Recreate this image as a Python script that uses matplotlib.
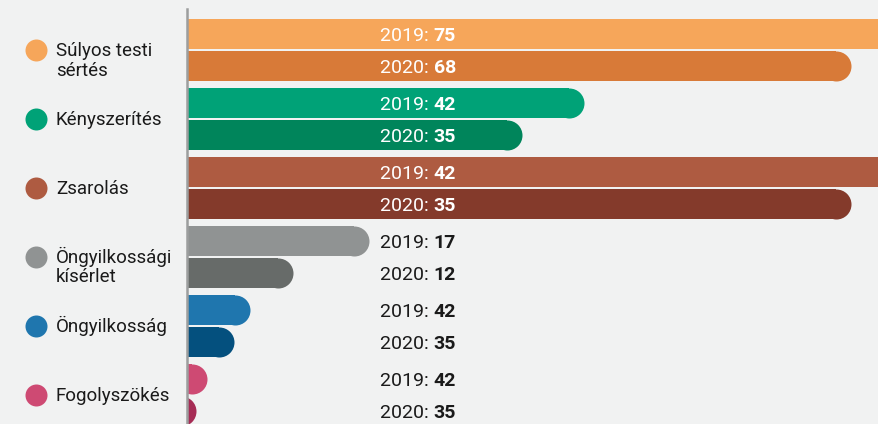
import numpy as np
import matplotlib
matplotlib.use("Agg")
from matplotlib import pyplot as plt

# categories (legend, top to bottom)
categories = ["Súlyos testi\nsértés", "Kényszerítés", "Zsarolás",
              "Öngyilkossági\nkísérlet", "Öngyilkosság", "Fogolyszökés"]

# printed values
vals_2019 = [75, 42, 42, 17, 42, 42]
vals_2020 = [68, 35, 35, 12, 35, 35]

# drawn bar lengths (panel width = 692)
len_2019 = [720, 397, 720, 182, 63, 20]
len_2020 = [664, 335, 664, 106, 47, 9]

col_2019 = ["#F6A65A", "#00A277", "#AE5B41", "#909393", "#1F76AE", "#CE4A73"]
col_2020 = ["#D87A38", "#00855B", "#843A2B", "#676B69", "#04507E", "#A62C55"]
label_col = ["white", "white", "white", "#1a1a1a", "#1a1a1a", "#1a1a1a"]

plt.rcParams["font.family"] = ["Roboto", "DejaVu Sans"]

W, H, DPI = 879, 424, 100
fig = plt.figure(figsize=(W / DPI, H / DPI), dpi=DPI)
fig.patch.set_facecolor("#F1F2F2")

# background axes in pixel units for the legend
bg = fig.add_axes([0, 0, 1, 1])
bg.set_xlim(0, W)
bg.set_ylim(H, 0)
bg.axis("off")

# bar panel
x0 = 187
top = 9
ax = fig.add_axes([x0 / W, 0, (W - x0) / W + 0.01, (H - top) / H])
ax.set_xlim(0, W - x0 + 0.01 * W)
ax.set_ylim(H, top)
ax.patch.set_alpha(0)
for s in ["top", "right", "bottom"]:
    ax.spines[s].set_visible(False)
ax.spines["left"].set_color("#9C9E9E")
ax.spines["left"].set_linewidth(1.8)
ax.set_xticks([])
ax.set_yticks([])

bar_h = 30
r = bar_h / 2
cap_s = (bar_h * 72 / DPI) ** 2
centers = 49.5 + 69 * np.arange(len(categories))

for i, cat in enumerate(categories):
    for dy, L, c, v, yr in [(-16, len_2019[i], col_2019[i], vals_2019[i], "2019"),
                            (16, len_2020[i], col_2020[i], vals_2020[i], "2020")]:
        y = centers[i] + dy
        ax.barh(y, max(L - r, 0), height=bar_h, color=c, linewidth=0)
        ax.scatter([L - r], [y], s=cap_s, color=c, linewidths=0, zorder=2)
        t = ax.text(193, y + 7.5, yr + ": ", color=label_col[i], fontsize=14,
                    va="baseline", ha="left", zorder=3)
        ax.annotate(str(v), xy=(1, 0), xycoords=t, va="bottom", ha="left",
                    color=label_col[i], fontsize=14, fontweight="bold", zorder=3)

    # legend
    bg.scatter([36], [centers[i]], s=(22 * 72 / DPI) ** 2, color=col_2019[i],
               linewidths=0)
    lines = cat.split("\n")
    for k, ln in enumerate(lines):
        bg.text(56, centers[i] + 6.5 + 19.5 * k, ln, fontsize=13.5, color="#1a1a1a",
                va="baseline", ha="left")

fig.savefig("out.png", dpi=DPI, facecolor=fig.get_facecolor())
